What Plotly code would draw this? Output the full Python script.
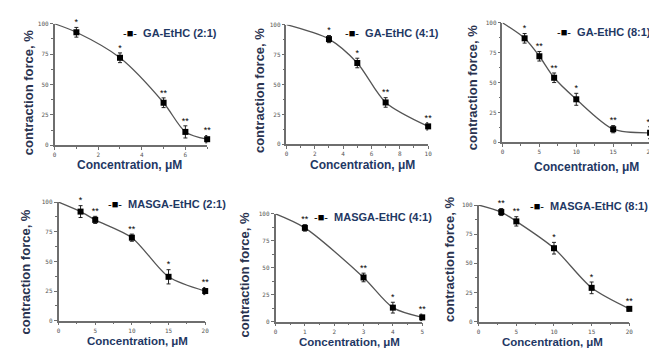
import plotly.graph_objects as go

W, H = 657, 349

# ---- data ----
names = ["GA-EtHC (2:1)", "GA-EtHC (4:1)", "GA-EtHC (8:1)",
         "MASGA-EtHC (2:1)", "MASGA-EtHC (4:1)", "MASGA-EtHC (8:1)"]

conc_1 = [1, 3, 5, 6, 7]
force_1 = [93, 72, 35, 11, 5]
err_1 = [4, 4, 4, 5, 3]
stars_1 = ["*", "*", "**", "**", "**"]

conc_2 = [3, 5, 7, 10]
force_2 = [88, 68, 35, 15]
err_2 = [3, 4, 4, 3]
stars_2 = ["*", "*", "**", "**"]

conc_3 = [3, 5, 7, 10, 15, 20]
force_3 = [87, 72, 54, 36, 11, 8]
err_3 = [4, 4, 4, 5, 3, 5]
stars_3 = ["*", "**", "**", "*", "**", "**"]

conc_4 = [3, 5, 10, 15, 20]
force_4 = [92, 85, 70, 37, 25]
err_4 = [5, 3, 3, 6, 3]
stars_4 = ["*", "**", "**", "*", "**"]

conc_5 = [1, 3, 4, 5]
force_5 = [87, 41, 13, 4]
err_5 = [3, 4, 5, 3]
stars_5 = ["**", "**", "*", "**"]

conc_6 = [3, 5, 10, 15, 20]
force_6 = [94, 86, 63, 29, 11]
err_6 = [3, 4, 5, 5, 2]
stars_6 = ["**", "**", "*", "*", "**"]

start_conc = 0
start_force = 100

x_max = [7, 10, 20, 20, 5, 20]
x_dtick = [2, 2, 5, 5, 1, 5]
y_ticks = [0, 25, 50, 75, 100]

# ---- layout geometry (pixels) ----
# (x0px, xendpx, y100px, y0px)
boxes = [(45, 199, 12, 136), (279, 422, 13, 135), (497, 646, 11, 133),
         (49, 197, 194, 315), (268, 416, 206, 316), (473, 625, 197, 316)]
ylab_pos = [(19, 82), (252, 80), (467, 77), (16, 265), (237, 268), (444, 252)]
xlab_pos = [(121, 156), (356, 156), (582, 158), (129, 336), (343, 337), (547, 337)]
leg_pos = [(112, 21), (336, 21), (550, 20), (97, 196), (305, 209), (523, 198)]

series = [(conc_1, force_1, err_1, stars_1), (conc_2, force_2, err_2, stars_2),
          (conc_3, force_3, err_3, stars_3), (conc_4, force_4, err_4, stars_4),
          (conc_5, force_5, err_5, stars_5), (conc_6, force_6, err_6, stars_6)]

TXT = "#1f3864"
AX = "#6e6e6e"

fig = go.Figure()
annotations = []
layout = {}
for i, ((c, f, e, s), box) in enumerate(zip(series, boxes)):
    n = "" if i == 0 else str(i + 1)
    xa, ya = "x" + n, "y" + n
    x0, x1, yt, yb = box
    fig.add_trace(go.Scatter(
        x=[start_conc] + c, y=[start_force] + f, mode="lines",
        line=dict(color="#555555", width=1.3, shape="spline", smoothing=0.8),
        xaxis=xa, yaxis=ya, showlegend=False, hoverinfo="skip", cliponaxis=False))
    fig.add_trace(go.Scatter(
        x=c, y=f, mode="markers",
        marker=dict(symbol="square", size=6, color="black"),
        error_y=dict(type="data", array=e, color="#222222", thickness=1, width=2),
        xaxis=xa, yaxis=ya, showlegend=False, cliponaxis=False))
    fig.add_trace(go.Scatter(
        x=c, y=[fv + ev for fv, ev in zip(f, e)], mode="text", text=s,
        textposition="top center", textfont=dict(size=9, color="black", family="Arial"),
        xaxis=xa, yaxis=ya, showlegend=False, hoverinfo="skip", cliponaxis=False))
    common = dict(showline=True, linecolor=AX, linewidth=1.5, ticks="outside",
                  ticklen=3, tickcolor=AX, tickwidth=1, showgrid=False, zeroline=False,
                  tickfont=dict(size=6, color="#555555", family="DejaVu Sans Mono"),
                  fixedrange=True)
    layout["xaxis" + n] = dict(
        domain=[x0 / W, x1 / W], range=[0, x_max[i]], anchor=ya,
        tickmode="linear", tick0=0, dtick=x_dtick[i], ticklabeloverflow="allow",
        minor=dict(dtick=x_dtick[i] / 2, ticks="outside", ticklen=2, tickcolor=AX),
        **common)
    layout["yaxis" + n] = dict(
        domain=[1 - yb / H, 1 - yt / H], range=[0, 100], anchor=xa,
        tickmode="array", tickvals=y_ticks,
        minor=dict(dtick=12.5, ticks="outside", ticklen=2, tickcolor=AX),
        **common)
    lx, ly = ylab_pos[i]
    annotations.append(dict(text="<b>contraction force, %</b>", x=lx / W, y=1 - ly / H,
                            xref="paper", yref="paper", showarrow=False, textangle=-90,
                            font=dict(size=13, color="#2a3350", family="Arial"),
                            xanchor="center", yanchor="middle"))
    cx, cy = xlab_pos[i]
    annotations.append(dict(text="<b>Concentration, μM</b>", x=cx / W, y=1 - cy / H,
                            xref="paper", yref="paper", showarrow=False,
                            font=dict(size=12 if i < 3 else 11.5, color=TXT, family="Arial"),
                            xanchor="center", yanchor="middle"))
    gx, gy = leg_pos[i]
    annotations.append(dict(text="<span style='color:black'>-■-</span>  <b>" + names[i] + "</b>",
                            x=gx / W, y=1 - gy / H, xref="paper", yref="paper",
                            showarrow=False, font=dict(size=11, color=TXT, family="Arial"),
                            xanchor="left", yanchor="middle"))

fig.update_layout(width=W, height=H, margin=dict(l=0, r=0, t=0, b=0),
                  paper_bgcolor="white", plot_bgcolor="white",
                  annotations=annotations, showlegend=False, **layout)
fig.write_html("out.html")
